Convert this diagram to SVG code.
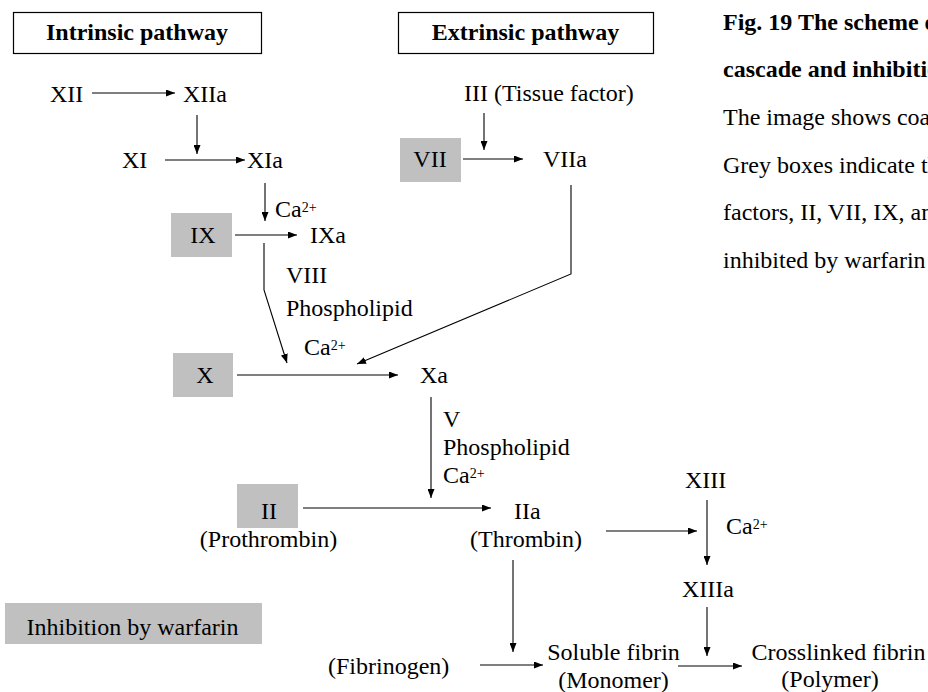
<svg xmlns="http://www.w3.org/2000/svg" width="928" height="692" viewBox="0 0 928 692">
  <style>
    text { font-family: "Liberation Serif", "Times New Roman", serif; font-size: 24px; fill: #000; }
    .b { font-weight: bold; }
    .m { text-anchor: middle; }
    .sup { font-size: 14px; }
    .grey { fill: #c0c0c0; stroke: none; }
    .title { fill: #fff; stroke: #000; stroke-width: 1.2; }
    .c { fill: none; stroke: #000; stroke-width: 1.1; marker-end: url(#ah); }
  </style>
  <defs>
    <marker id="ah" viewBox="0 0 9 7" refX="9" refY="3.5" markerWidth="9" markerHeight="7" markerUnits="userSpaceOnUse" orient="auto">
      <path d="M0,0 L9,3.5 L0,7 z" fill="#000"/>
    </marker>
  </defs>

  <g id="title-intrinsic">
    <rect class="title" x="13.5" y="12.5" width="248" height="41"/>
    <text class="b m" x="137" y="40">Intrinsic pathway</text>
  </g>
  <g id="title-extrinsic">
    <rect class="title" x="398.5" y="12.5" width="255" height="41"/>
    <text class="b m" x="525.5" y="40">Extrinsic pathway</text>
  </g>

  <g id="caption">
    <text class="b" x="723" y="30">Fig. 19 The scheme o</text>
    <text class="b" x="723" y="77">cascade and inhibitio</text>
    <text x="723" y="125">The image shows coa</text>
    <text x="723" y="173">Grey boxes indicate th</text>
    <text x="723" y="220">factors, II, VII, IX, an</text>
    <text x="723" y="268">inhibited by warfarin</text>
  </g>

  <g id="n-XII"><text x="50" y="102">XII</text></g>
  <g id="n-XIIa"><text x="183" y="102">XIIa</text></g>
  <g id="n-XI"><text x="122" y="168">XI</text></g>
  <g id="n-XIa"><text x="247" y="168">XIa</text></g>
  <g id="n-IX">
    <rect class="grey" x="171" y="213" width="61" height="44"/>
    <text class="m" x="203" y="243">IX</text>
  </g>
  <g id="n-IXa"><text x="310" y="243">IXa</text></g>
  <g id="n-X">
    <rect class="grey" x="173" y="353" width="60" height="44"/>
    <text class="m" x="205" y="383">X</text>
  </g>
  <g id="n-Xa"><text x="420" y="383">Xa</text></g>
  <g id="n-III"><text x="464" y="101">III (Tissue factor)</text></g>
  <g id="n-VII">
    <rect class="grey" x="400" y="138" width="61" height="44"/>
    <text class="m" x="430" y="167">VII</text>
  </g>
  <g id="n-VIIa"><text x="543" y="167">VIIa</text></g>
  <g id="n-II">
    <rect class="grey" x="237" y="484" width="61" height="44"/>
    <text class="m" x="269" y="519">II</text>
    <text class="m" x="268.5" y="547">(Prothrombin)</text>
  </g>
  <g id="n-IIa">
    <text x="514" y="519">IIa</text>
    <text class="m" x="526" y="547">(Thrombin)</text>
  </g>
  <g id="n-XIII"><text x="685" y="488">XIII</text></g>
  <g id="n-XIIIa"><text x="682" y="597">XIIIa</text></g>
  <g id="n-fibrinogen"><text x="328" y="674">(Fibrinogen)</text></g>
  <g id="n-soluble">
    <text class="m" x="613.5" y="660">Soluble fibrin</text>
    <text class="m" x="613.5" y="688">(Monomer)</text>
  </g>
  <g id="n-crosslinked">
    <text class="m" x="838.5" y="660">Crosslinked fibrin</text>
    <text class="m" x="830" y="687">(Polymer)</text>
  </g>
  <g id="legend">
    <rect class="grey" x="5" y="603" width="257" height="41"/>
    <text class="m" x="132.5" y="635">Inhibition by warfarin</text>
  </g>

  <g id="cofactors">
    <text x="275" y="217">Ca<tspan class="sup" dy="-5">2+</tspan></text>
    <text x="286" y="283">VIII</text>
    <text x="286" y="316">Phospholipid</text>
    <text x="304" y="355">Ca<tspan class="sup" dy="-5">2+</tspan></text>
    <text x="443" y="427">V</text>
    <text x="443" y="455">Phospholipid</text>
    <text x="443" y="483">Ca<tspan class="sup" dy="-5">2+</tspan></text>
    <text x="726" y="534">Ca<tspan class="sup" dy="-5">2+</tspan></text>
  </g>

  <g id="connectors">
    <path class="c" d="M92,93 H175"/>
    <path class="c" d="M197,115 V154"/>
    <path class="c" d="M165,160 H245"/>
    <path class="c" d="M265,183 V221"/>
    <path class="c" d="M235,235 H297"/>
    <path class="c" d="M264,243 V290 L287,363"/>
    <path class="c" d="M571,185 V274 L357,364"/>
    <path class="c" d="M237,375 H398"/>
    <path class="c" d="M431,397 V498"/>
    <path class="c" d="M303,508 H491"/>
    <path class="c" d="M484,113 V150"/>
    <path class="c" d="M463,159 H523"/>
    <path class="c" d="M606,531 H697"/>
    <path class="c" d="M707,500 V565"/>
    <path class="c" d="M513,560 V652"/>
    <path class="c" d="M480,665 H543"/>
    <path class="c" d="M707,607 V656"/>
    <path class="c" d="M678,666 H742"/>
  </g>
</svg>
